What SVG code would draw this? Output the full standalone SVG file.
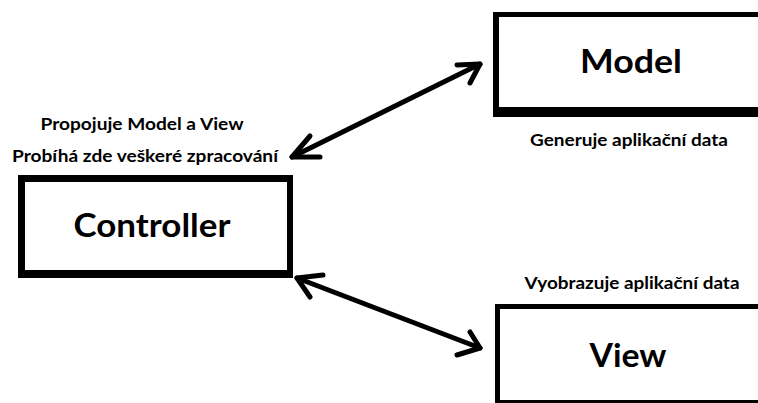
<svg xmlns="http://www.w3.org/2000/svg" width="758" height="403" viewBox="0 0 758 403">
  <style>
    .frame { fill: #000; }
    .inner { fill: #fff; }
    .title { font-family: Lato, "Open Sans", "Liberation Sans", sans-serif; font-weight: bold; font-size: 33px; fill: #000; text-anchor: middle; }
    .note { font-family: Lato, "Open Sans", "Liberation Sans", sans-serif; font-weight: bold; font-size: 17px; fill: #000; text-anchor: middle; }
    .link { fill: none; stroke: #000; stroke-width: 5; stroke-linecap: round; stroke-linejoin: round; }
  </style>
  <rect width="758" height="403" fill="#fff"/>

  <g id="controller">
    <rect class="frame" x="18" y="175" width="275" height="103"/>
    <rect class="inner" x="25" y="182" width="262" height="88"/>
    <text class="title" x="152" y="237" textLength="157" lengthAdjust="spacingAndGlyphs">Controller</text>
    <text class="note" x="142" y="130" textLength="203" lengthAdjust="spacingAndGlyphs">Propojuje Model a View</text>
    <text class="note" x="145" y="162" textLength="266" lengthAdjust="spacingAndGlyphs">Probíhá zde veškeré zpracování</text>
  </g>

  <g id="model">
    <rect class="frame" x="493" y="12" width="270" height="105"/>
    <rect class="inner" x="499" y="17" width="264" height="90"/>
    <text class="title" x="631" y="73" textLength="102" lengthAdjust="spacingAndGlyphs">Model</text>
    <text class="note" x="629" y="146" textLength="198" lengthAdjust="spacingAndGlyphs">Generuje aplikační data</text>
  </g>

  <g id="view">
    <rect class="frame" x="495" y="304" width="270" height="104"/>
    <rect class="inner" x="500" y="309" width="265" height="91"/>
    <text class="title" x="628" y="367" textLength="77" lengthAdjust="spacingAndGlyphs">View</text>
    <text class="note" x="632" y="289" textLength="215" lengthAdjust="spacingAndGlyphs">Vyobrazuje aplikační data</text>
  </g>

  <g id="connectors">
    <!-- Controller <-> Model -->
    <path class="link" d="M292 157 L480 64"/>
    <path class="link" d="M310 136 L292 157 L320 157"/>
    <path class="link" d="M457 65 L480 64 L470 83"/>
    <!-- Controller <-> View -->
    <path class="link" d="M297 278 L480 348"/>
    <path class="link" d="M323 275 L297 278 L310 297"/>
    <path class="link" d="M470 332 L480 348 L457 355"/>
  </g>
</svg>
